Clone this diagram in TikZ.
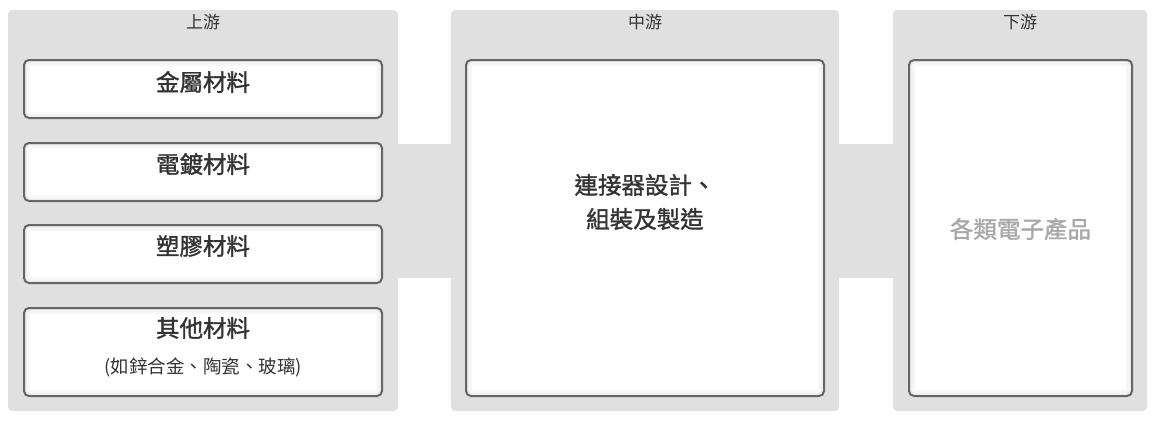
\documentclass[tikz,border=0pt]{standalone}
\usepackage{fontspec}
\setmainfont{Noto Sans CJK TC}
\newfontfamily\midfont{Noto Sans CJK TC}[FakeBold=1.4]
\usepackage{tikz}
\usetikzlibrary{positioning}

\definecolor{panelgray}{HTML}{E0E0E0}
\definecolor{boxline}{HTML}{666666}
\definecolor{txtdark}{HTML}{333333}
\definecolor{txtgray}{HTML}{A8A8A8}

\tikzset{
	panel/.style={rectangle, fill=panelgray, rounded corners=4pt, inner sep=0pt, minimum height=401pt},
	stagebox/.style={rectangle, draw=boxline, line width=2pt, fill=white, rounded corners=5pt, inner sep=0pt,
		path picture={
			\draw[black!3, line width=12pt] (path picture bounding box.south west) rectangle (path picture bounding box.north east);
			\draw[black!5, line width=7pt] (path picture bounding box.south west) rectangle (path picture bounding box.north east);
			\draw[black!8, line width=4pt] (path picture bounding box.south west) rectangle (path picture bounding box.north east);
		}},
	matbox/.style={stagebox, minimum width=358pt, minimum height=58pt},
	title/.style={text=txtdark, font=\fontsize{17}{20}\selectfont},
	label/.style={text=txtdark, font=\fontsize{23.5}{34}\selectfont\midfont},
}

\begin{document}
\begin{tikzpicture}[x=1pt, y=-1pt]
	\useasboundingbox (0,0) rectangle (1158,421);

	% Draw panels
	\node (up)   at (203,210.5)  [panel, minimum width=390pt] {};
	\node (mid)  at (645,210.5)  [panel, minimum width=388pt] {};
	\node (down) at (1020,210.5) [panel, minimum width=254pt] {};
	% Bars between panels
	\fill[panelgray] ([yshift=67pt]up.east) rectangle ([yshift=-67pt]mid.west);
	\fill[panelgray] ([yshift=67pt]mid.east) rectangle ([yshift=-67pt]down.west);

	% Panel titles
	\node (tup)   at (203,22)  [title] {上游};
	\node (tmid)  at (645,22)  [title] {中游};
	\node (tdown) at (1020,22) [title] {下游};

	% Upstream boxes
	\node (m1) at (203,89)  [matbox] {};
	\node (m2) at (203,172) [matbox] {};
	\node (m3) at (203,254) [matbox] {};
	\node (m4) at (203,352) [matbox, minimum height=88pt] {};
	\node (l1) at (203,82)  [label] {金屬材料};
	\node (l2) at (203,164) [label] {電鍍材料};
	\node (l3) at (203,246) [label] {塑膠材料};
	\node (l4) at (203,328) [label] {其他材料};
	\node (s4) at (203,367) [text=txtdark, font=\fontsize{18.5}{22}\selectfont] {(如鋅合金、陶瓷、玻璃)};

	% Midstream box
	\node (mbox) at (645,228) [stagebox, minimum width=358pt, minimum height=336pt] {};
	\node (lmid) at (645,202) [label, align=center] {連接器設計、\\組裝及製造};

	% Downstream box
	\node (dbox)  at (1020.5,228) [stagebox, minimum width=223pt, minimum height=336pt] {};
	\node (ldown) at (1020.5,229) [label, text=txtgray] {各類電子產品};

\end{tikzpicture}
\end{document}
